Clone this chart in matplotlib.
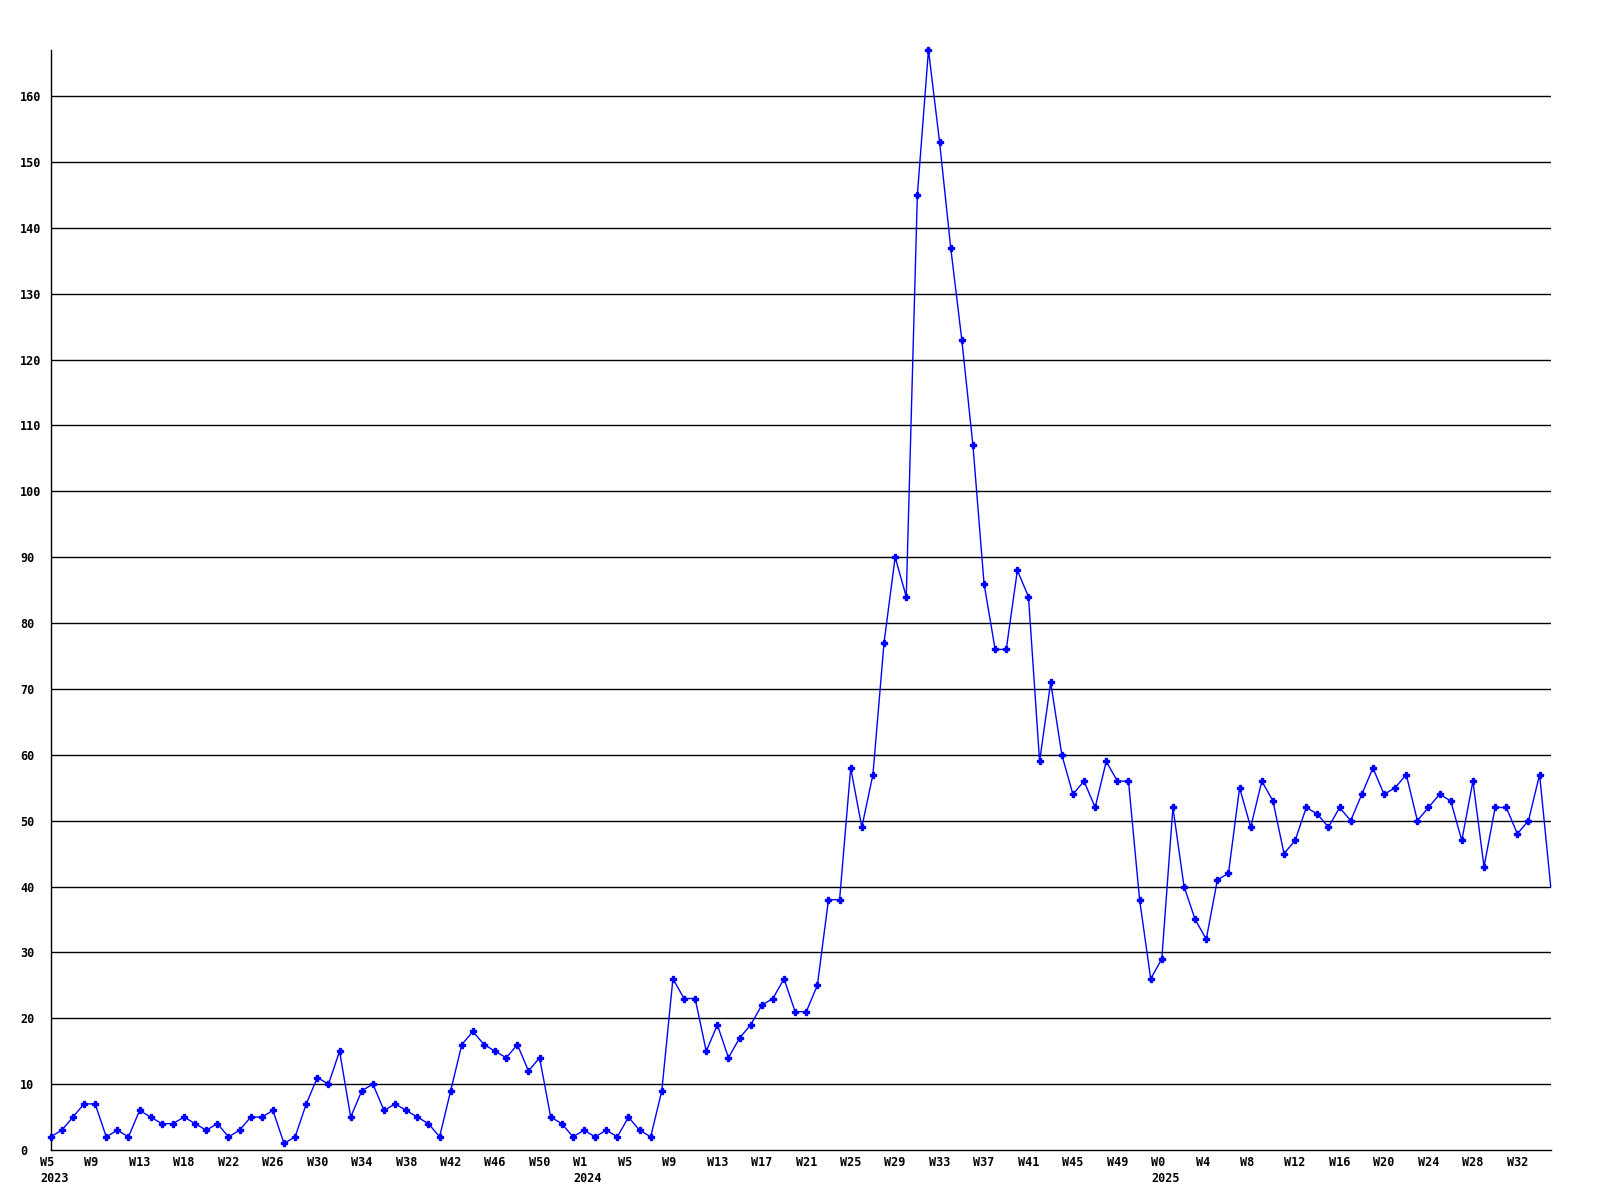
# -*- coding: utf-8 -*-
import matplotlib
matplotlib.use('Agg')
import matplotlib.pyplot as plt
import matplotlib.transforms as mtransforms

# weekly counts, 2023 W5 .. 2025 W35
values = [2, 3, 5, 7, 7, 2, 3, 2, 6, 5, 4, 4, 5, 4, 3, 4, 2, 3, 5, 5,
          6, 1, 2, 7, 11, 10, 15, 5, 9, 10, 6, 7, 6, 5, 4, 2, 9, 16, 18, 16,
          15, 14, 16, 12, 14, 5, 4, 2, 3, 2, 3, 2, 5, 3, 2, 9, 26, 23, 23, 15,
          19, 14, 17, 19, 22, 23, 26, 21, 21, 25, 38, 38, 58, 49, 57, 77, 90, 84, 145, 167,
          153, 137, 123, 107, 86, 76, 76, 88, 84, 59, 71, 60, 54, 56, 52, 59, 56, 56, 38, 26,
          29, 52, 40, 35, 32, 41, 42, 55, 49, 56, 53, 45, 47, 52, 51, 49, 52, 50, 54, 58,
          54, 55, 57, 50, 52, 54, 53, 47, 56, 43, 52, 52, 48, 50, 57, 40]

week_labels = ['W5', 'W9', 'W13', 'W18', 'W22', 'W26', 'W30', 'W34', 'W38', 'W42',
               'W46', 'W50', 'W1', 'W5', 'W9', 'W13', 'W17', 'W21', 'W25', 'W29',
               'W33', 'W37', 'W41', 'W45', 'W49', 'W0', 'W4', 'W8', 'W12', 'W16',
               'W20', 'W24', 'W28', 'W32']
year_labels = {0: '2023', 48: '2024', 100: '2025'}  # index of week label -> year

plt.rcParams['font.family'] = ['DejaVu Sans Mono']
plt.rcParams['font.weight'] = 'bold'

fig = plt.figure(figsize=(16, 12), dpi=100)
ax = fig.add_axes([50.7 / 1600, 1 - 1150 / 1200, 1500 / 1600, 1100 / 1200])

x = list(range(len(values)))
ax.plot(x, values, color='#0000ff', lw=1.0, marker='P', ms=4.2,
        markevery=list(range(len(values) - 1)), clip_on=False, zorder=3)

ax.set_xlim(0, len(values) - 1)
ax.set_ylim(0, max(values))

yt = list(range(10, 161, 10))
for v in yt:
    ax.axhline(v, color='black', lw=1.0, zorder=1)
ax.set_yticks([0] + yt)
ax.set_yticklabels([str(v) for v in [0] + yt], fontsize=8.5, fontweight='bold')
ax.tick_params(axis='y', length=0, pad=22.1)
for lab in ax.get_yticklabels():
    lab.set_horizontalalignment('left')

xt = list(range(0, len(values), 4))[:len(week_labels)]
xl = []
for i, w in zip(xt, week_labels):
    xl.append(w + '\n' + year_labels[i] if i in year_labels else w)
ax.set_xticks(xt)
ax.set_xticklabels(xl, fontsize=8.5, fontweight='bold', linespacing=1.3)
ax.tick_params(axis='x', length=0, pad=4)
shift = mtransforms.ScaledTranslation(-10.7 / 100, 0, fig.dpi_scale_trans)
for lab in ax.get_xticklabels():
    lab.set_horizontalalignment('left')
    lab.set_verticalalignment('top')
    lab.set_transform(lab.get_transform() + shift)

for s in ['top', 'right']:
    ax.spines[s].set_visible(False)
for s in ['left', 'bottom']:
    ax.spines[s].set_color('black')
    ax.spines[s].set_linewidth(1.0)

fig.savefig('out.png', dpi=100)
